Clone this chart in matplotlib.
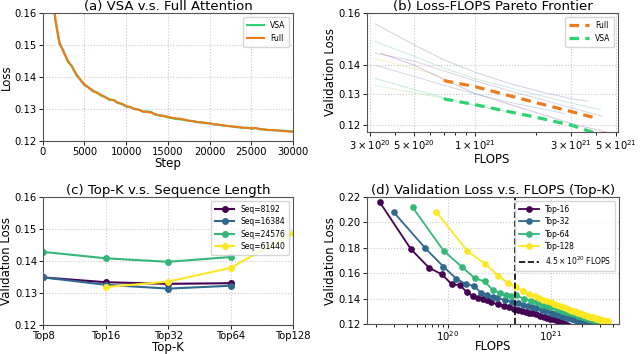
import numpy as np
import matplotlib
matplotlib.use("Agg")
import matplotlib.pyplot as plt
from matplotlib.ticker import NullFormatter, NullLocator

plt.rcParams['font.family'] = ['DejaVu Sans']

# ---- (a) training loss, VSA vs Full ----
steps = [1000, 1500, 2000, 2500, 3000, 3500, 4000, 4500, 5000, 5500,
         6000, 6500, 7000, 7500, 8000, 8500, 9000, 9500, 10000, 10500,
         11000, 11500, 12000, 12500, 13000, 13500, 14000, 14500, 15000, 15500,
         16000, 16500, 17000, 17500, 18000, 18500, 19000, 19500, 20000, 20500,
         21000, 21500, 22000, 22500, 23000, 23500, 24000, 24500, 25000, 25500,
         26000, 26500, 27000, 27500, 28000, 28500, 29000, 29500, 30000]
loss_full = [0.1720, 0.1585, 0.1510, 0.1478, 0.1452, 0.1432, 0.1410, 0.1391, 0.1377, 0.1366,
             0.1358, 0.1350, 0.1344, 0.1336, 0.1330, 0.1327, 0.1320, 0.1315, 0.1309, 0.1305,
             0.1300, 0.1297, 0.1292, 0.1290, 0.1288, 0.1283, 0.1280, 0.1277, 0.1275, 0.1272,
             0.1270, 0.1269, 0.1266, 0.1263, 0.1261, 0.1259, 0.1257, 0.1256, 0.1254, 0.1252,
             0.1250, 0.1249, 0.1247, 0.1245, 0.1244, 0.1243, 0.1241, 0.1240, 0.1239, 0.1240,
             0.1237, 0.1235, 0.1234, 0.1233, 0.1233, 0.1231, 0.1230, 0.1229, 0.1228]
loss_vsa = [0.1718, 0.1580, 0.1505, 0.1482, 0.1448, 0.1435, 0.1407, 0.1393, 0.1374, 0.1368,
            0.1355, 0.1352, 0.1341, 0.1338, 0.1328, 0.1328, 0.1318, 0.1316, 0.1307, 0.1306,
            0.1299, 0.1298, 0.1291, 0.1292, 0.1290, 0.1282, 0.1279, 0.1278, 0.1273, 0.1271,
            0.1268, 0.1267, 0.1265, 0.1262, 0.1262, 0.1258, 0.1258, 0.1255, 0.1255, 0.1251,
            0.1251, 0.1248, 0.1246, 0.1246, 0.1243, 0.1242, 0.1240, 0.1241, 0.1238, 0.1239,
            0.1236, 0.1236, 0.1233, 0.1234, 0.1232, 0.1232, 0.1231, 0.1230, 0.1229]

# ---- (b) Pareto frontier ----
frontier_flops = [7e20, 1e21, 2e21, 3e21, 4e21]
frontier_full = [0.1346, 0.1325, 0.1272, 0.1243, 0.1222]
frontier_vsa = [0.1284, 0.1265, 0.1225, 0.1200, 0.1175]

# faint individual runs behind the frontier
runs_flops = [
    [3.2e20, 5e20, 7e20, 1e21, 1.5e21, 2.2e21, 3e21, 3.6e21],
    [3.2e20, 5e20, 7e20, 1e21, 1.5e21, 2.2e21, 3e21, 4.2e21],
    [3.2e20, 5e20, 7e20, 1e21, 1.5e21, 2.2e21, 3e21, 4.3e21],
    [3.2e20, 4e20, 5e20, 6e20, 7e20],
    [3.4e20, 5e20, 7e20, 1e21, 1.5e21, 2.2e21, 3e21, 5e21],
    [3.2e20, 5e20, 7e20, 1e21, 1.5e21, 2.2e21, 2.8e21],
    [3.2e20, 5e20, 7e20, 1e21, 1.5e21],
    [3.2e20, 5e20, 7e20],
]
runs_loss = [
    [0.1557, 0.1475, 0.1420, 0.1375, 0.1335, 0.1305, 0.1285, 0.1276],
    [0.1488, 0.1432, 0.1390, 0.1352, 0.1320, 0.1292, 0.1270, 0.1249],
    [0.1444, 0.1415, 0.1380, 0.1345, 0.1310, 0.1280, 0.1255, 0.1228],
    [0.1424, 0.1405, 0.1388, 0.1372, 0.1356],
    [0.1444, 0.1400, 0.1350, 0.1302, 0.1265, 0.1232, 0.1205, 0.1172],
    [0.1400, 0.1360, 0.1330, 0.1300, 0.1272, 0.1250, 0.1236],
    [0.1353, 0.1315, 0.1288, 0.1262, 0.1240],
    [0.1329, 0.1305, 0.1285],
]
runs_colors = ['#8a9cc0', '#8fd0b5', '#a9a0c8', '#e6e27a', '#a07cb0',
               '#9aa8c8', '#7cd0a8', '#b5e3a0']

# ---- (c) Top-K vs sequence length ----
topk_labels = ['Top8', 'Top16', 'Top32', 'Top64', 'Top128']
seq_names = ['Seq=8192', 'Seq=16384', 'Seq=24576', 'Seq=61440']
seq_topk_idx = [[0, 1, 2, 3], [0, 1, 2, 3], [0, 1, 2, 3], [1, 2, 3, 4]]
seq_loss = [
    [0.1348, 0.1333, 0.1328, 0.1330],
    [0.1348, 0.1325, 0.1313, 0.1322],
    [0.1428, 0.1408, 0.1397, 0.1412],
    [0.1318, 0.1335, 0.1378, 0.1487],
]
viridis4 = ['#440154', '#31688e', '#35b779', '#fde725']

# ---- (d) validation loss vs FLOPS per Top-K (FLOPS in units of 1e19) ----
topk_names = ['Top-16', 'Top-32', 'Top-64', 'Top-128']
top16_x = [2.2, 4.4, 6.6, 8.8, 11.0, 13.2, 15.4, 17.6, 19.8, 22.0, 24.2, 26.4, 30.8, 35.2,
           39.6, 44.0, 48.4, 52.8, 57.2, 61.6, 66.0, 72.6, 79.2, 85.8, 92.4, 99.0, 105.6,
           112.2, 118.8, 125.4, 132.0, 138.6, 145.2, 151.8]
top16_y = [0.2158, 0.1790, 0.1643, 0.1591, 0.1512, 0.1507, 0.1449, 0.1423, 0.1407, 0.1400,
           0.1387, 0.1372, 0.1355, 0.1343, 0.1331, 0.1322, 0.1312, 0.1304, 0.1297, 0.1290,
           0.1283, 0.1275, 0.1266, 0.1258, 0.1251, 0.1243, 0.1236, 0.1229, 0.1222, 0.1214,
           0.1207, 0.1200, 0.1193, 0.1186]
top32_x = [3.0, 6.1, 9.1, 12.1, 15.2, 18.2, 21.2, 24.2, 27.3, 30.3, 36.4, 42.4, 48.5, 54.5,
           60.6, 66.7, 72.7, 81.8, 90.9, 100, 109, 118, 127, 136, 148, 161, 173, 185, 197,
           209, 221, 233, 245]
top32_y = [0.2080, 0.1795, 0.1652, 0.1558, 0.1512, 0.1500, 0.1441, 0.1428, 0.1415, 0.1405,
           0.1388, 0.1374, 0.1362, 0.1352, 0.1342, 0.1334, 0.1326, 0.1312, 0.1300, 0.1290,
           0.1281, 0.1272, 0.1264, 0.1256, 0.1246, 0.1237, 0.1229, 0.1221, 0.1214, 0.1207,
           0.1201, 0.1195, 0.1190]
top64_x = [4.57, 9.14, 13.7, 18.3, 22.9, 27.4, 32.0, 36.6, 41.1, 45.7, 54.8, 64.0, 73.1,
           82.3, 91.4, 100.5, 114.3, 128.0, 141.7, 155.4, 169.1, 182.8, 201, 219, 238, 256,
           274, 293, 311, 329, 347]
top64_y = [0.2119, 0.1777, 0.1651, 0.1562, 0.1535, 0.1467, 0.1448, 0.1432, 0.1420, 0.1428,
           0.1400, 0.1385, 0.1370, 0.1353, 0.1343, 0.1334, 0.1318, 0.1305, 0.1295, 0.1285,
           0.1275, 0.1266, 0.1256, 0.1246, 0.1236, 0.1228, 0.1221, 0.1215, 0.1209, 0.1204,
           0.1199]
top128_x = [7.75, 15.5, 23.3, 31.0, 38.8, 46.5, 54.3, 62.0, 69.8, 77.5, 85.3, 93.0, 101,
            109, 116, 124, 132, 140, 147, 155, 163, 171, 178, 186, 194, 202, 209, 217, 225,
            233, 240, 248, 256, 264, 271, 279, 287, 295, 302, 310, 318, 326, 333, 341, 349, 357]
top128_y = [0.2085, 0.1775, 0.1672, 0.1580, 0.1520, 0.1490, 0.1458, 0.1440, 0.1424, 0.1406,
            0.1393, 0.1380, 0.1370, 0.1360, 0.1350, 0.1342, 0.1335, 0.1327, 0.1321, 0.1314,
            0.1306, 0.1299, 0.1293, 0.1288, 0.1283, 0.1278, 0.1274, 0.1270, 0.1266, 0.1262,
            0.1259, 0.1256, 0.1252, 0.1249, 0.1246, 0.1243, 0.1240, 0.1238, 0.1235, 0.1233,
            0.1230, 0.1228, 0.1226, 0.1224, 0.1222, 0.1220]
flops_marker = 4.5e20

GREEN = '#2bd46f'
ORANGE = '#ef7a1a'
GRID = dict(color='#c8c8c8', linestyle=':', linewidth=0.8)

fig = plt.figure(figsize=(6.4, 3.54), dpi=100)
ax_a = fig.add_axes([0.0667, 0.6025, 0.3913, 0.36])
ax_b = fig.add_axes([0.573, 0.628, 0.393, 0.3344])
ax_c = fig.add_axes([0.0677, 0.0828, 0.3903, 0.3607])
ax_d = fig.add_axes([0.573, 0.0847, 0.394, 0.3588])

for ax in (ax_a, ax_b, ax_c, ax_d):
    ax.tick_params(labelsize=7.2, length=3, width=0.6, pad=1.5)
    for s in ax.spines.values():
        s.set_linewidth(0.8)
        s.set_color('#555555')

# (a)
ax_a.plot(steps, loss_vsa, color=GREEN, lw=1.5, label='VSA')
ax_a.plot(steps, loss_full, color=ORANGE, lw=1.5, label='Full')
ax_a.set_xlim(0, 30000)
ax_a.set_ylim(0.12, 0.16)
ax_a.set_yticks([0.12, 0.13, 0.14, 0.15, 0.16])
ax_a.set_xticks(range(0, 30001, 5000))
ax_a.grid(True, **GRID)
ax_a.set_xlabel('Step', fontsize=8.5, labelpad=0)
ax_a.set_ylabel('Loss', fontsize=8.5, labelpad=1)
ax_a.set_title('(a) VSA v.s. Full Attention', fontsize=9.5, pad=2)
ax_a.legend(loc='upper right', fontsize=5.5, handlelength=2.2, borderpad=0.5)

# (b)
for xs, ys, c in zip(runs_flops, runs_loss, runs_colors):
    ax_b.plot(xs, ys, color=c, lw=0.7, alpha=0.45)
ax_b.plot(frontier_flops, frontier_full, color=ORANGE, lw=2.3, ls=(0, (3, 2)), label='Full')
ax_b.plot(frontier_flops, frontier_vsa, color=GREEN, lw=2.3, ls=(0, (3, 2)), label='VSA')
ax_b.set_xscale('log')
ax_b.set_yscale('log')
ax_b.set_xlim(2.9e20, 5.15e21)
ax_b.set_ylim(0.118, 0.16)
ax_b.set_xticks([3e20, 5e20, 1e21, 3e21, 5e21])
ax_b.set_xticklabels([r'$3\times10^{20}$', r'$5\times10^{20}$', r'$1\times10^{21}$',
                      r'$3\times10^{21}$', r'$5\times10^{21}$'])
ax_b.xaxis.set_minor_formatter(NullFormatter())
ax_b.set_yticks([0.12, 0.13, 0.14, 0.16])
ax_b.set_yticklabels(['0.12', '0.13', '0.14', '0.16'])
ax_b.yaxis.set_minor_locator(NullLocator())
ax_b.grid(True, **GRID)
ax_b.set_xlabel('FLOPS', fontsize=8.5, labelpad=1)
ax_b.set_ylabel('Validation Loss', fontsize=8.5, labelpad=1)
ax_b.set_title('(b) Loss-FLOPS Pareto Frontier', fontsize=9.5, pad=2)
ax_b.legend(loc='upper right', fontsize=5.5, handlelength=2.6, borderpad=0.5)

# (c)
for name, idx, ys, c in zip(seq_names, seq_topk_idx, seq_loss, viridis4):
    ax_c.plot(idx, ys, color=c, lw=1.5, marker='o', ms=4, label=name)
ax_c.set_xlim(0, 4)
ax_c.set_ylim(0.12, 0.16)
ax_c.set_xticks(range(len(topk_labels)))
ax_c.set_xticklabels(topk_labels)
ax_c.set_yticks([0.12, 0.13, 0.14, 0.15, 0.16])
ax_c.grid(True, **GRID)
ax_c.set_xlabel('Top-K', fontsize=8.5, labelpad=0)
ax_c.set_ylabel('Validation Loss', fontsize=8.5, labelpad=1)
ax_c.set_title('(c) Top-K v.s. Sequence Length', fontsize=9.5, pad=2)
ax_c.legend(loc='upper right', fontsize=5.5, handlelength=2.6, borderpad=0.5,
            labelspacing=0.45)

# (d)
series_x = [top16_x, top32_x, top64_x, top128_x]
series_y = [top16_y, top32_y, top64_y, top128_y]
for name, xs, ys, c in zip(topk_names, series_x, series_y, viridis4):
    ax_d.plot(np.array(xs) * 1e19, ys, color=c, lw=1.3, marker='o', ms=3.8, label=name)
ax_d.axvline(flops_marker, color='black', ls='--', lw=1.2,
             label=r'$4.5\times10^{20}$ FLOPS')
ax_d.set_xscale('log')
ax_d.set_xlim(1.64e19, 4.6e21)
ax_d.set_ylim(0.12, 0.22)
ax_d.set_yticks([0.12, 0.14, 0.16, 0.18, 0.20, 0.22])
ax_d.tick_params(axis='x', pad=0.5)
ax_d.grid(True, **GRID)
ax_d.set_xlabel('FLOPS', fontsize=8.5, labelpad=-2)
ax_d.set_ylabel('Validation Loss', fontsize=8.5, labelpad=1)
ax_d.set_title('(d) Validation Loss v.s. FLOPS (Top-K)', fontsize=9.5, pad=2)
ax_d.legend(loc='upper right', fontsize=5.5, handlelength=2.6, borderpad=0.5,
            labelspacing=0.45)

fig.savefig('out.png', dpi=100)
